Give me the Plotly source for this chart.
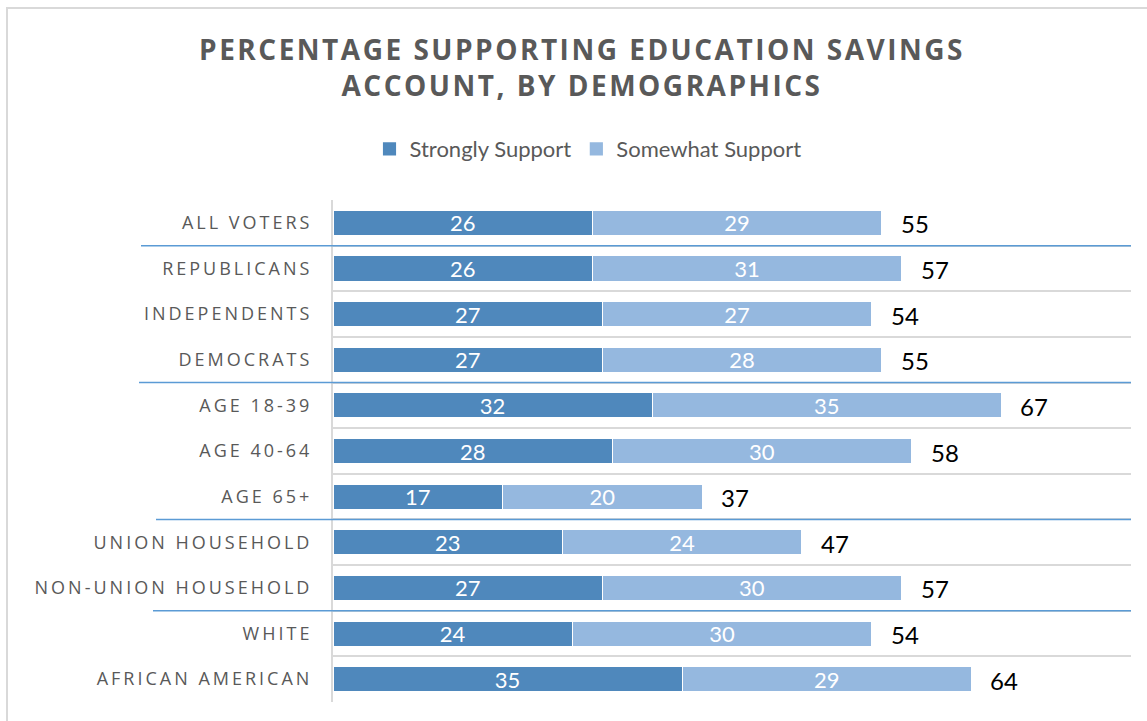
import plotly.graph_objects as go

categories = ["ALL VOTERS", "REPUBLICANS", "INDEPENDENTS", "DEMOCRATS",
              "AGE 18-39", "AGE 40-64", "AGE 65+", "UNION HOUSEHOLD",
              "NON-UNION HOUSEHOLD", "WHITE", "AFRICAN AMERICAN"]
strongly = [26, 26, 27, 27, 32, 28, 17, 23, 27, 24, 35]
somewhat = [29, 31, 27, 28, 35, 30, 20, 24, 30, 30, 29]
totals = [55, 57, 54, 55, 67, 58, 37, 47, 57, 54, 64]
separators_after = ["ALL VOTERS", "DEMOCRATS", "AGE 65+", "NON-UNION HOUSEHOLD"]

DARK = "#4F88BC"
LIGHT = "#95B8DF"
GRAY = "#595959"

W, H = 1147, 721
L, R, T, B = 333, 16, 200, 19
PW, PH = W - L - R, H - T - B


def px_x(p):
    return (p - L) / PW


def px_y(p):
    return (H - B - p) / PH


fig = go.Figure()
fig.add_trace(go.Bar(
    name="Strongly Support", y=categories, x=strongly, orientation="h",
    marker=dict(color=DARK, line=dict(color="white", width=1)),
    text=[str(v) for v in strongly], textposition="inside",
    insidetextanchor="middle", textangle=0, constraintext="none",
    textfont=dict(family="Lato", size=22, color="white"), hoverinfo="skip"))
fig.add_trace(go.Bar(
    name="Somewhat Support", y=categories, x=somewhat, orientation="h",
    marker=dict(color=LIGHT, line=dict(color="white", width=1)),
    text=[str(v) for v in somewhat], textposition="inside",
    insidetextanchor="middle", textangle=0, constraintext="none",
    textfont=dict(family="Lato", size=22, color="white"), hoverinfo="skip"))

annotations = []
for cat, tot in zip(categories, totals):
    annotations.append(dict(x=tot, y=cat, xref="x", yref="y", text=str(tot),
                            showarrow=False, xanchor="left", yanchor="middle",
                            xshift=17, yshift=-1,
                            font=dict(family="Lato", size=24, color="#000000")))

shapes = []
sep_left = [141, 139, 156, 153]
for name, lx in zip(separators_after, sep_left):
    i = categories.index(name)
    shapes.append(dict(type="line", xref="paper", yref="y",
                       x0=px_x(lx), x1=1.0, y0=i + 0.5, y1=i + 0.5,
                       line=dict(color="#5B9BD5", width=1.5), layer="above"))
shapes.append(dict(type="rect", xref="paper", yref="paper",
                   x0=px_x(7), x1=px_x(1165), y0=px_y(735), y1=px_y(8),
                   line=dict(color="#D9D9D9", width=2), fillcolor="rgba(0,0,0,0)"))

fig.update_layout(
    width=W, height=H, autosize=False,
    margin=dict(l=L, r=R, t=T, b=B, pad=0),
    paper_bgcolor="white", plot_bgcolor="white",
    barmode="stack", bargap=0.45,
    title=dict(text="PERCENTAGE SUPPORTING EDUCATION SAVINGS<br>ACCOUNT, BY DEMOGRAPHICS",
               x=582 / W, xref="container", xanchor="center",
               y=1 - 60 / H, yref="container", yanchor="top",
               font=dict(family="Open Sans", size=28, color=GRAY, weight="bold")),
    legend=dict(orientation="h", xref="container", x=588 / W, xanchor="center",
                yref="container", y=1 - 149 / H, yanchor="middle",
                font=dict(family="Lato", size=22, color=GRAY),
                traceorder="normal", itemwidth=30, bgcolor="rgba(0,0,0,0)"),
    xaxis=dict(range=[0, 80], visible=False, fixedrange=True),
    yaxis=dict(type="category", categoryorder="array", categoryarray=categories,
               range=[len(categories) - 0.5, -0.5], tickson="boundaries", showgrid=True,
               gridcolor="#D9D9D9", gridwidth=2, showline=True, linecolor="#D9D9D9",
               linewidth=2, ticks="", ticklabelstandoff=15, zeroline=False,
               tickfont=dict(family="Open Sans", size=18, color=GRAY)),
    shapes=shapes,
    annotations=annotations,
)

js = """
document.querySelectorAll('.ytick text').forEach(function(t){ t.style.letterSpacing='3px'; });
document.querySelectorAll('.gtitle').forEach(function(t){ t.style.letterSpacing='2.5px'; });
document.querySelectorAll('.legendpoints path').forEach(function(p){ p.setAttribute('transform', (p.getAttribute('transform')||'') + ' scale(1.2)'); });
"""
fig.write_html("out.html", post_script=js)
